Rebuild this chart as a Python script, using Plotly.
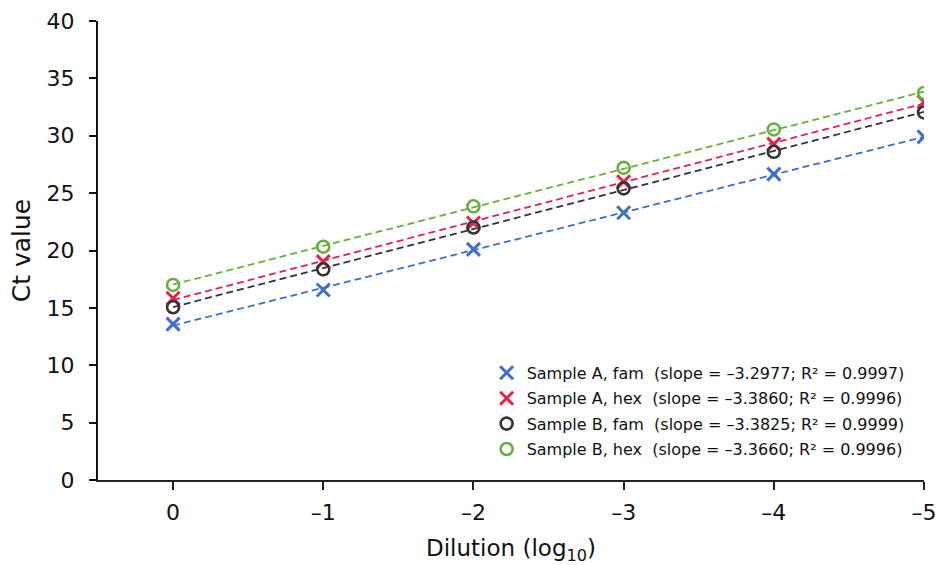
import numpy as np
import plotly.graph_objects as go

# ---- data ----
dilution = [0, -1, -2, -3, -4, -5]
tick_text = ["0", "\u20131", "\u20132", "\u20133", "\u20134", "\u20135"]
y_ticks = [0, 5, 10, 15, 20, 25, 30, 35, 40]

series_names = ["Sample A, fam", "Sample A, hex", "Sample B, fam", "Sample B, hex"]
slopes_txt = ["\u20133.2977", "\u20133.3860", "\u20133.3825", "\u20133.3660"]
r2_txt = ["0.9997", "0.9996", "0.9999", "0.9996"]

ct_a_fam = [13.58, 16.56, 20.10, 23.29, 26.66, 29.90]
ct_a_hex = [15.84, 19.03, 22.40, 25.99, 29.27, 32.95]
ct_b_fam = [15.05, 18.36, 22.00, 25.41, 28.60, 32.03]
ct_b_hex = [17.00, 20.33, 23.85, 27.20, 30.55, 33.73]

series_values = [ct_a_fam, ct_a_hex, ct_b_fam, ct_b_hex]
colors = ["#3f6fc6", "#e2234e", "#333333", "#6aae3e"]
symbols = ["x-thin-open", "x-thin-open", "circle-open", "circle-open"]

FONT = "DejaVu Sans"

fig = go.Figure()

# dashed regression lines (fitted from the data points)
for i, vals in enumerate(series_values):
    m, b = np.polyfit(dilution, vals, 1)
    xs = [dilution[0], dilution[-1]]
    fig.add_trace(go.Scatter(
        x=xs, y=[m * x + b for x in xs], mode="lines",
        line=dict(color=colors[i], width=1.8, dash="7px,4px"),
        showlegend=False, hoverinfo="skip", legendgroup=f"g{i}"))

# markers
for i, vals in enumerate(series_values):
    name = (series_names[i] + "\u00a0\u00a0(slope = " + slopes_txt[i]
            + "; R\u00b2 = " + r2_txt[i] + ")")
    is_x = symbols[i].startswith("x")
    fig.add_trace(go.Scatter(
        x=dilution, y=vals, mode="markers", name=name, legendgroup=f"g{i}",
        marker=dict(symbol=symbols[i], size=13 if is_x else 12,
                    color=colors[i],
                    line=dict(color=colors[i], width=3 if is_x else 2.6))))

fig.update_layout(
    width=937, height=565,
    margin=dict(l=98, r=13, t=21, b=85, autoexpand=False),
    paper_bgcolor="white", plot_bgcolor="white",
    font=dict(family=FONT, color="#111111"),
    showlegend=True,
    legend=dict(x=0.4705, y=0.2704, xanchor="left", yanchor="top",
                font=dict(family=FONT, size=16, color="#111111"),
                bgcolor="rgba(0,0,0,0)", tracegroupgap=1.6,
                itemclick=False),
    xaxis=dict(range=[0.5, -5], tickvals=dilution, ticktext=tick_text,
               automargin=False,
               ticks="outside", ticklen=8, tickwidth=1.5, tickcolor="#222222",
               showline=True, linewidth=1.5, linecolor="#222222",
               showgrid=False, zeroline=False,
               tickfont=dict(family=FONT, size=22, color="#111111"),
               ticklabelstandoff=4, ticklabeloverflow="allow",
               title=dict(text="Dilution (log<sub>10</sub>)",
                          font=dict(family=FONT, size=23, color="#111111"),
                          standoff=18)),
    yaxis=dict(range=[0, 40], tickvals=y_ticks,
               automargin=False,
               ticks="outside", ticklen=7, tickwidth=1.5, tickcolor="#111111",
               showline=True, linewidth=2.2, linecolor="#111111",
               showgrid=False, zeroline=False,
               tickfont=dict(family=FONT, size=22, color="#111111"),
               ticklabelstandoff=10,
               title=dict(text="Ct value",
                          font=dict(family=FONT, size=25, color="#111111"),
                          standoff=9)),
)

fig.write_html(
    "out.html",
    config={"displayModeBar": False},
    post_script="document.body.style.margin='0';document.body.style.padding='0';",
)
